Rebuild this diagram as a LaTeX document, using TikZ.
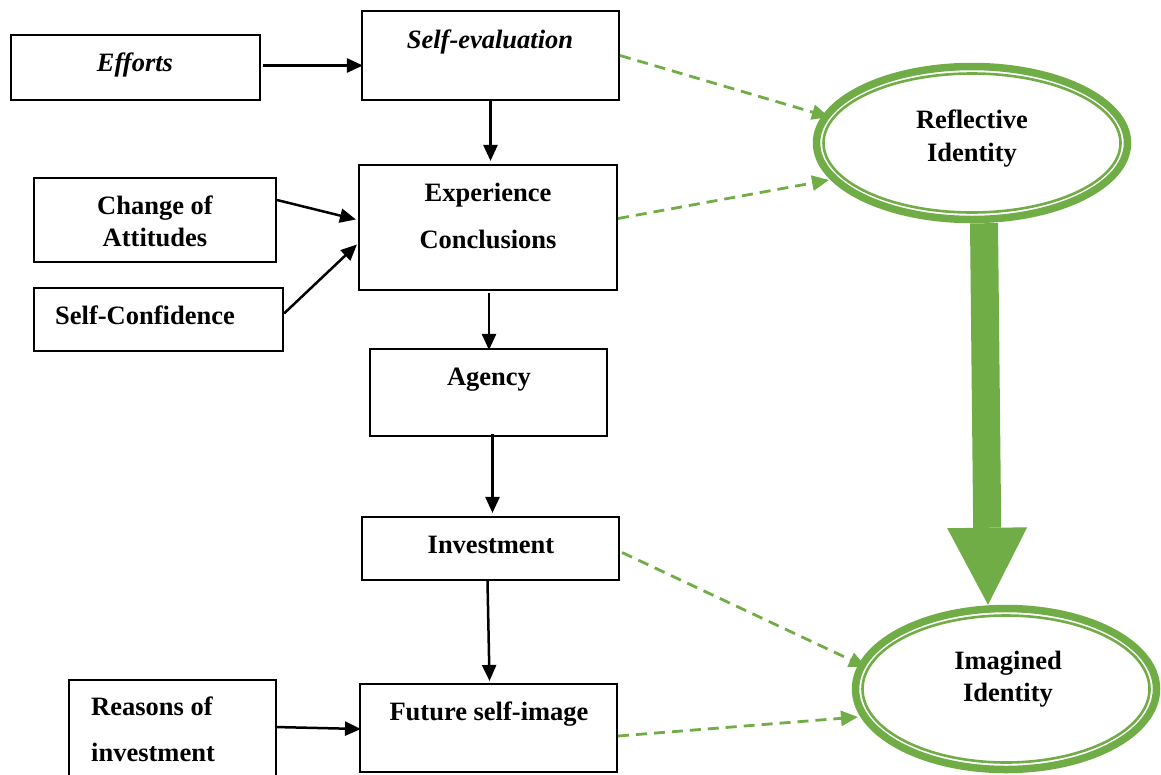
\documentclass[tikz,border=0pt]{standalone}
\usepackage{fontspec}
\setmainfont{Liberation Serif}
\usetikzlibrary{arrows.meta,shapes.geometric,calc}
\definecolor{gr}{HTML}{70AD47}
\newcommand\lblfont{\fontsize{26.5}{30}\selectfont\bfseries}
\begin{document}
\begin{tikzpicture}[x=1pt,y=-1pt,
  box/.style={draw, line width=2.1pt, rectangle, inner sep=0pt},
  txt/.style={anchor=base, inner sep=0pt, font=\lblfont},
  arr/.style={line width=2.5pt, -{Triangle[length=16pt,width=14pt]}},
  garr/.style={draw=gr, line width=2.8pt, dash pattern=on 11pt off 7pt, -{Triangle[length=17pt,width=15pt]}},
  ell/.style={ellipse, draw=gr, line width=7.5pt, inner sep=0pt, fill=white},
  inell/.style={draw=gr, line width=2.6pt}
]
\useasboundingbox (0,0) rectangle (1161,774);

% boxes
\node[box, minimum width=249pt, minimum height=65pt] (eff) at (135.5,67.5) {};
\node[box, minimum width=257pt, minimum height=89pt] (seval) at (490.5,55.5) {};
\node[box, minimum width=242pt, minimum height=84pt] (att) at (155,220) {};
\node[box, minimum width=258pt, minimum height=125pt] (exp) at (488,227.5) {};
\node[box, minimum width=249pt, minimum height=63pt] (conf) at (158.5,319.5) {};
\node[box, minimum width=237pt, minimum height=87pt] (agen) at (488.5,392.5) {};
\node[box, minimum width=257pt, minimum height=63pt] (inv) at (490.5,548.5) {};
\node[box, minimum width=257pt, minimum height=88pt] (fut) at (488.5,728) {};
\node[box, minimum width=207pt, minimum height=110pt] (reas) at (172.5,735) {};

% texts
\node[txt, font=\lblfont\itshape] (teff) at (135,71) {Efforts};
\node[txt, font=\lblfont\itshape] (tseval) at (490,48) {Self-evaluation};
\node[txt] (tatt1) at (155,214) {Change of};
\node[txt] (tatt2) at (155,246) {Attitudes};
\node[txt] (texp1) at (488,201) {Experience};
\node[txt] (texp2) at (488,248) {Conclusions};
\node[txt] (tconf) at (145,324) {Self-Confidence};
\node[txt] (tagen) at (489,385) {Agency};
\node[txt] (tinv) at (491,553) {Investment};
\node[txt] (tfut) at (489,720) {Future self-image};
\node[txt, anchor=base west] (treas1) at (91,715) {Reasons of};
\node[txt, anchor=base west] (treas2) at (91,761) {investment};

% ellipses
\node[ell, minimum width=311pt, minimum height=153pt] (refl) at (972,143) {};
\draw[inell] (refl.center) ellipse [x radius=148.5pt, y radius=69.5pt];
\node[ell, minimum width=301pt, minimum height=161pt] (imag) at (1006,689) {};
\draw[inell] (imag.center) ellipse [x radius=143.5pt, y radius=73.5pt];

% thick green arrow
\draw[gr, line width=28pt, -{Triangle[length=77pt,width=80pt,line width=0pt]}]
  ($(refl.south)+(12,0)$) -- ($(imag.north)+(-18,0)$);

\node[txt] (trefl1) at (972,128) {Reflective};
\node[txt] (trefl2) at (972,161) {Identity};
\node[txt] (timag1) at (1008,669) {Imagined};
\node[txt] (timag2) at (1008,701) {Identity};

% black connectors
\draw[arr] ($(eff.east)+(2,-2)$) -- ($(seval.west)+(2,10)$);
\draw[arr] (seval.south) -- ($(seval.south |- exp.north)+(0,-3)$);
\draw[arr] ($(att.east)+(0,-20)$) -- ($(exp.west)+(-2,-8)$);
\draw[arr] ($(conf.east)+(0,-6)$) -- ($(exp.west)+(-1,17)$);
\draw[arr] ($(exp.south)+(1,2)$) -- ($(exp.south |- agen.north)+(1,2)$);
\draw[arr] ($(agen.south)+(4,-3)$) -- ($(agen.south |- inv.north)+(4,-3)$);
\draw[arr] ($(inv.south)+(-3,0)$) -- ($(fut.north)+(1,-2)$);
\draw[arr] ($(reas.east)+(-2,-8)$) -- ($(fut.west)+(2,1)$);

% green dashed connectors
\draw[garr] (seval.east) -- ($(refl.center)+(-143,-26)$);
\draw[garr] ($(exp.east)+(0,-9)$) -- ($(refl.center)+(-143,37)$);
\draw[garr] ($(inv.east)+(2,4)$) -- ($(imag.center)+(-140,-22)$);
\draw[garr] ($(fut.east)+(0,8)$) -- ($(imag.center)+(-148,28)$);
\end{tikzpicture}
\end{document}
